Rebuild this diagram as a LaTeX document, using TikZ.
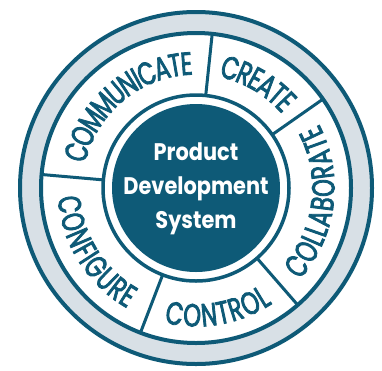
\documentclass[tikz,border=0pt]{standalone}
\usepackage{fontspec}
\setmainfont{Poppins}
\newfontfamily\ringfamily[FakeStretch=0.7, FakeBold=2.5]{Poppins}
\newfontfamily\hubfamily[FakeStretch=0.87]{Poppins}
\newcommand\ringfont{\ringfamily\fontsize{32}{32}\selectfont}
\usetikzlibrary{decorations.text}
\definecolor{pdsteal}{RGB}{14,90,119}
\definecolor{pdsgray}{RGB}{216,224,230}

\begin{document}
\begin{tikzpicture}[
        x=1pt, y=1pt,
        ringline/.style={draw=pdsteal, line width=4pt},
        sepline/.style={draw=pdsteal, line width=3pt},
        ]
    \useasboundingbox (0,0) rectangle (382,-370);
    \begin{scope}[shift={(196,-188)}]
        % rings
        \filldraw [ringline, fill=pdsgray] (0,0) circle (176);
        \filldraw [ringline, fill=white] (0,0) circle (155);
        \draw [ringline, line width=3.5pt] (0,0) circle (93);
        \fill [pdsteal] (0,0) circle (84);

        % separators between the five segments
        \foreach \a in {84, 35, -49, -111, 175}
        {
            \draw [sepline] (\a:93) -- (\a:155);
        }

        % segment labels
        \foreach \from / \to / \word in {
            175/84/COMMUNICATE,
            84/35/CREATE,
            -49/35/COLLABORATE,
            -111/-49/CONTROL,
            175/249/CONFIGURE
        }
        {
            \path [decorate, decoration={text along path, text align=center,
                    text color=pdsteal, raise=-12.5pt,
                    text/.expanded={|\noexpand\ringfont|\word}}]
                (\from:126) arc [start angle=\from, end angle=\to, radius=126];
        }

        \node (pds) at (0,-1) [align=center, text=white,
            font=\hubfamily\fontsize{24}{34}\selectfont\bfseries]
            {Product\\Development\\System};
    \end{scope}
\end{tikzpicture}
\end{document}
